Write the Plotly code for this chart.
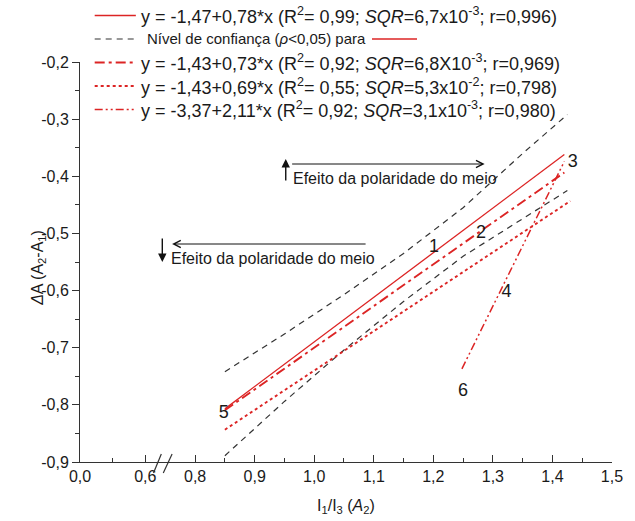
import plotly.graph_objects as go

# ---- data -------------------------------------------------------------
# fitted lines (x range of each fit and the y values at its ends)
fit_a_x = [0.85, 1.42]
fit_a_y = [-0.807, -0.362]          # y = -1,47 + 0,78*x
fit_b_x = [0.85, 1.42]
fit_b_y = [-0.8095, -0.3934]        # y = -1,43 + 0,73*x
fit_c_x = [0.85, 1.43]
fit_c_y = [-0.8435, -0.4433]        # y = -1,43 + 0,69*x
fit_d_x = [1.248, 1.42]
fit_d_y = [-0.737, -0.374]          # y = -3,37 + 2,11*x

# 95 % confidence band of the first fit
band_x = [0.85, 0.95, 1.05, 1.15, 1.25, 1.35, 1.425]
band_upper = [-0.742, -0.676, -0.607, -0.535, -0.455, -0.360, -0.292]
band_lower = [-0.889, -0.794, -0.704, -0.619, -0.540, -0.475, -0.425]

# numbered samples
point_ids = ["1", "2", "3", "4", "5", "6"]
point_x = [1.201, 1.280, 1.434, 1.323, 0.848, 1.250]
point_y = [-0.525, -0.500, -0.376, -0.603, -0.815, -0.776]

legend_texts = [
    "y = -1,47+0,78*x (R<sup>2</sup>= 0,99; <i>SQR</i>=6,7x10<sup>-3</sup>; r=0,996)",
    "Nível de confiança (<i>ρ</i><0,05) para",
    "y = -1,43+0,73*x (R<sup>2</sup>= 0,92; <i>SQR</i>=6,8X10<sup>-3</sup>; r=0,969)",
    "y = -1,43+0,69*x (R<sup>2</sup>= 0,55; <i>SQR</i>=5,3x10<sup>-2</sup>; r=0,798)",
    "y = -3,37+2,11*x (R<sup>2</sup>= 0,92; <i>SQR</i>=3,1x10<sup>-3</sup>; r=0,980)",
]
effect_text = "Efeito da polaridade do meio"

# tick labels
x_left_ticks = [0.0, 0.6]
x_left_labels = ["0,0", "0,6"]
x_right_ticks = [0.8, 0.9, 1.0, 1.1, 1.2, 1.3, 1.4, 1.5]
x_right_labels = ["0,8", "0,9", "1,0", "1,1", "1,2", "1,3", "1,4", "1,5"]
y_ticks = [-0.9, -0.8, -0.7, -0.6, -0.5, -0.4, -0.3, -0.2]
y_labels = ["-0,9", "-0,8", "-0,7", "-0,6", "-0,5", "-0,4", "-0,3", "-0,2"]

# ---- styling ------------------------------------------------------------
W, H = 635, 521
ML, MR, MT, MB = 80, 12, 62, 59
PW, PH = W - ML - MR, H - MT - MB
FONT = "Liberation Sans, Arial, sans-serif"
TXT = "#1a1a1a"
AX = "#333333"
RED = "#dc2424"
FS = 16
FS_EQ = 18

STYLE_A = dict(color=RED, width=1.3)
STYLE_BAND = dict(color=AX, width=1.2, dash="6px,5px")
STYLE_B = dict(color=RED, width=1.9, dash="10px,4px,3px,4px")
STYLE_C = dict(color=RED, width=1.9, dash="3px,3px")
STYLE_D = dict(color=RED, width=1.5, dash="8px,3px,2px,3px,2px,3px")


def px_x(px):
    return (px - ML) / PW


def px_y(py):
    return (H - MB - py) / PH


BREAK_PX = 165
split = px_x(BREAK_PX)

fig = go.Figure()

# keeps the left (0 – 0,6) axis segment and the y axis drawn
fig.add_trace(go.Scatter(x=[None], y=[None], mode="lines", xaxis="x", yaxis="y",
                         showlegend=False, hoverinfo="skip"))

common = dict(mode="lines", xaxis="x2", yaxis="y", showlegend=False, hoverinfo="skip")
fig.add_trace(go.Scatter(x=band_x, y=band_upper, line=STYLE_BAND, **common))
fig.add_trace(go.Scatter(x=band_x, y=band_lower, line=STYLE_BAND, **common))
fig.add_trace(go.Scatter(x=fit_c_x, y=fit_c_y, line=STYLE_C, **common))
fig.add_trace(go.Scatter(x=fit_b_x, y=fit_b_y, line=STYLE_B, **common))
fig.add_trace(go.Scatter(x=fit_d_x, y=fit_d_y, line=STYLE_D, **common))
fig.add_trace(go.Scatter(x=fit_a_x, y=fit_a_y, line=STYLE_A, **common))

fig.add_trace(go.Scatter(
    x=point_x, y=point_y, text=point_ids, mode="text",
    textfont=dict(family=FONT, size=18, color=TXT),
    xaxis="x2", yaxis="y", showlegend=False, hoverinfo="skip",
))

tick_font = dict(family=FONT, size=FS, color=TXT)

fig.update_layout(
    width=W, height=H,
    margin=dict(l=ML, r=MR, t=MT, b=MB),
    paper_bgcolor="white", plot_bgcolor="white",
    font=dict(family=FONT, size=FS, color=TXT),
    xaxis=dict(
        domain=[0, split], range=[0, (BREAK_PX - ML) / 111],
        tickmode="array", tickvals=x_left_ticks, ticktext=x_left_labels,
        ticks="inside", ticklen=7, tickwidth=1, tickcolor=AX,
        minor=dict(tickmode="array", tickvals=[0.3], ticks="inside", ticklen=4, tickcolor=AX),
        showline=True, linecolor=AX, linewidth=1, showgrid=False, zeroline=False,
        anchor="y", tickfont=tick_font,
    ),
    xaxis2=dict(
        domain=[split, 1], range=[0.8 - (197.5 - BREAK_PX) / 608, 1.5],
        tickmode="array", tickvals=x_right_ticks, ticktext=x_right_labels,
        ticks="inside", ticklen=7, tickwidth=1, tickcolor=AX,
        minor=dict(tickmode="array",
                   tickvals=[0.85, 0.95, 1.05, 1.15, 1.25, 1.35, 1.45],
                   ticks="inside", ticklen=4, tickcolor=AX),
        showline=True, linecolor=AX, linewidth=1, showgrid=False, zeroline=False,
        anchor="y", tickfont=tick_font,
    ),
    yaxis=dict(
        range=[-0.9, -0.2],
        tickmode="array", tickvals=y_ticks, ticktext=y_labels,
        ticks="outside", ticklen=7, tickwidth=1, tickcolor=AX,
        minor=dict(tickmode="array",
                   tickvals=[-0.85, -0.75, -0.65, -0.55, -0.45, -0.35, -0.25],
                   ticks="outside", ticklen=4, tickcolor=AX),
        showline=True, linecolor=AX, linewidth=1, showgrid=False, zeroline=False,
        anchor="x", tickfont=tick_font,
    ),
)

shapes = []
annotations = []

# axis break marks
for x0, x1 in [(155, 163), (165, 174)]:
    shapes.append(dict(type="line", xref="paper", yref="paper",
                       x0=px_x(x0), y0=px_y(473), x1=px_x(x1), y1=px_y(454),
                       line=dict(color=AX, width=1.2)))

# legend block
legend_styles = [STYLE_A, STYLE_BAND, STYLE_B, STYLE_C, STYLE_D]
legend_sizes = [FS_EQ, 15, FS_EQ, FS_EQ, FS_EQ]
legend_text_x = [140, 146, 140, 140, 140]
row_y = [15.5, 39, 62.5, 86, 109.5]
for style, text, size, tx, ry in zip(legend_styles, legend_texts, legend_sizes,
                                     legend_text_x, row_y):
    shapes.append(dict(type="line", xref="paper", yref="paper",
                       x0=px_x(95), x1=px_x(137), y0=px_y(ry), y1=px_y(ry),
                       line=style))
    annotations.append(dict(xref="paper", yref="paper", x=px_x(tx), y=px_y(ry),
                            text=text, showarrow=False, xanchor="left", yanchor="middle",
                            font=dict(family=FONT, size=size, color=TXT)))
# red sample after the confidence-level entry
shapes.append(dict(type="line", xref="paper", yref="paper",
                   x0=px_x(378), x1=px_x(424), y0=px_y(row_y[1]), y1=px_y(row_y[1]),
                   line=STYLE_A))

# polarity-effect arrows and captions
arrow = dict(xref="paper", yref="paper", axref="pixel", ayref="pixel",
             showarrow=True, text="", arrowcolor="#111111")
annotations += [
    dict(x=px_x(290), y=px_y(159), ax=0, ay=23, arrowhead=2, arrowsize=1.2, arrowwidth=1.4, **arrow),
    dict(x=px_x(493), y=px_y(164), ax=-194, ay=0, arrowhead=5, arrowsize=1.4, arrowwidth=1, **arrow),
    dict(x=px_x(164), y=px_y(262), ax=0, ay=-25, arrowhead=2, arrowsize=1.2, arrowwidth=1.4, **arrow),
    dict(x=px_x(174), y=px_y(244), ax=195, ay=0, arrowhead=5, arrowsize=1.4, arrowwidth=1, **arrow),
    dict(xref="paper", yref="paper", x=px_x(295), y=px_y(178), text=effect_text,
         showarrow=False, xanchor="left", yanchor="middle",
         font=dict(family=FONT, size=FS, color=TXT)),
    dict(xref="paper", yref="paper", x=px_x(171), y=px_y(258), text=effect_text,
         showarrow=False, xanchor="left", yanchor="middle",
         font=dict(family=FONT, size=FS, color=TXT)),
]

# axis titles
annotations += [
    dict(xref="paper", yref="paper", x=px_x(352), y=px_y(506),
         text="I<sub>1</sub>/I<sub>3</sub> (<i>A</i><sub>2</sub>)",
         showarrow=False, xanchor="center", yanchor="middle",
         font=dict(family=FONT, size=FS, color=TXT)),
    dict(xref="paper", yref="paper", x=px_x(37), y=px_y(268),
         text="<i>Δ</i>A (A<sub>2</sub>-A<sub>1</sub>)", textangle=-90,
         showarrow=False, xanchor="center", yanchor="middle",
         font=dict(family=FONT, size=FS, color=TXT)),
]

fig.update_layout(shapes=shapes, annotations=annotations)
fig.write_html("out.html")
